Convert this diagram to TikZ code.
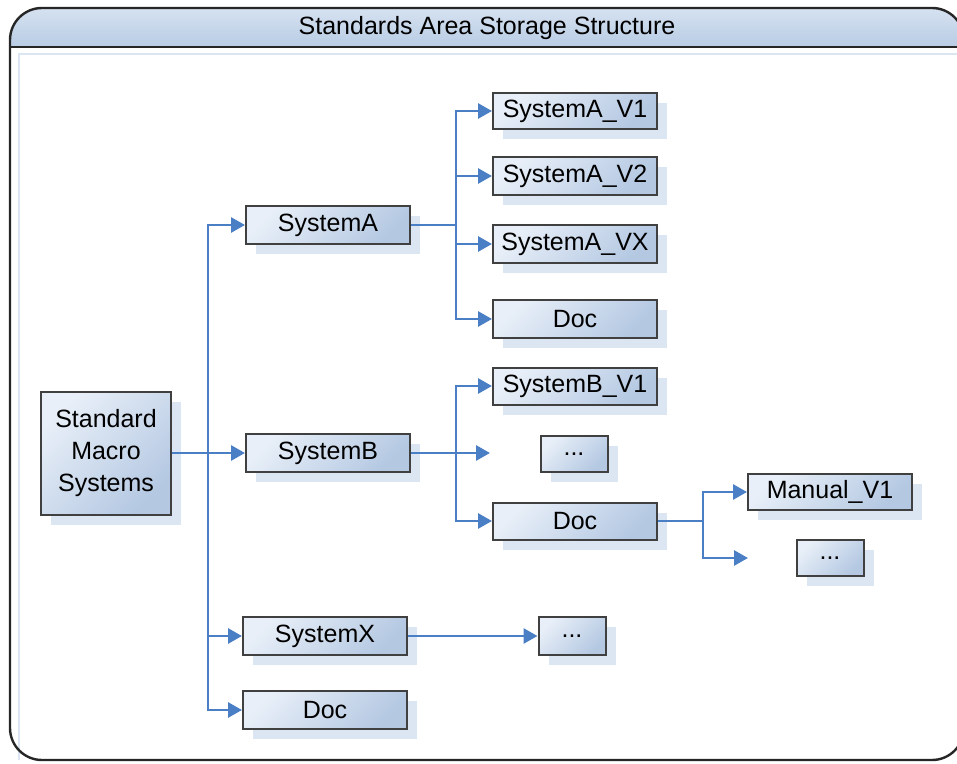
\documentclass[tikz,border=0pt]{standalone}
\usepackage{fontspec}
\setmainfont{Liberation Sans}
\usetikzlibrary{arrows.meta,shadows}
\definecolor{linkblue}{HTML}{4A7EC5}
\definecolor{boxtop}{HTML}{E8EFF8}
\definecolor{boxbot}{HTML}{B4C8E2}
\definecolor{shadowblue}{HTML}{DCE6F2}
\definecolor{headtop}{HTML}{DCE6F3}
\definecolor{headbot}{HTML}{B8CCE4}

\begin{document}
\begin{tikzpicture}[x=0.5pt,y=-0.5pt,
  every node/.style={font=\fontsize{12.5}{16}\selectfont},
  box/.style={draw=black!75,line width=1pt,top color=boxtop,bottom color=boxbot,
    shading angle=45,minimum width=82pt,minimum height=19pt,inner sep=0pt,align=center,
    drop shadow={shadow xshift=5pt,shadow yshift=-5pt,fill=shadowblue,opacity=1}},
  small/.style={box,minimum width=33.5pt,minimum height=18pt},
  link/.style={draw=linkblue,line width=1.4pt,-{Triangle[length=7pt,width=7.5pt]}}]
  \useasboundingbox (0,0) rectangle (957,764);
  % frame and header
  \begin{scope}
    \clip[rounded corners=16pt] (10,8) rectangle (964,760);
    \fill[top color=headtop,bottom color=headbot] (0,0) rectangle (964,47);
  \end{scope}
  \draw[shadowblue,line width=1.2pt] (19,760) -- (19,54) -- (964,54);
  \draw[black!85,line width=1pt] (10,47) -- (964,47);
  \draw[black!85,line width=1.2pt,rounded corners=16pt] (10,8) rectangle (964,760);
  \node (title) at (487,28) {Standards Area Storage Structure};
  % boxes
  \node[box,minimum width=65pt,minimum height=61.5pt] (std) at (106,453) {Standard\\Macro\\Systems};
  \node[box] (sysA) at (328,225) {SystemA};
  \node[box] (sysB) at (328,453) {SystemB};
  \node[box] (sysX) at (325,636) {SystemX};
  \node[box] (doc) at (325,710) {Doc};
  \node[box,minimum height=18pt] (a1) at (575,111) {SystemA\_V1};
  \node[box] (a2) at (575,176) {SystemA\_V2};
  \node[box] (ax) at (575,244) {SystemA\_VX};
  \node[box] (adoc) at (575,319) {Doc};
  \node[box,minimum height=18.5pt] (b1) at (575,386) {SystemB\_V1};
  \node[small] (bdots) at (574,454) {...};
  \node[box,minimum height=18.5pt] (bdoc) at (575,521) {Doc};
  \node[box,minimum height=18pt] (man) at (830,492) {Manual\_V1};
  \node[small] (mdots) at (830,558) {...};
  \node[small,minimum height=19pt] (xdots) at (572,636) {...};
  % buses and free ends
  \coordinate (bus) at (208,453);
  \coordinate (busA) at (456,225);
  \coordinate (busB) at (456,453);
  \coordinate (busD) at (703,521);
  \coordinate (bfree) at (490,453);
  \coordinate (dfree) at (748,558);
  % connectors
  \draw[link] (std.east) -- (bus) |- (sysA.west);
  \draw[link] (std.east) -- (sysB.west);
  \draw[link] (bus) |- (sysX.west);
  \draw[link] (bus) |- (doc.west);
  \draw[link] (sysA.east) -- (busA) |- (a1.west);
  \draw[link] (busA) |- (a2.west);
  \draw[link] (busA) |- (ax.west);
  \draw[link] (busA) |- (adoc.west);
  \draw[link] (sysB.east) -- (bfree);
  \draw[link] (busB) |- (b1.west);
  \draw[link] (busB) |- (bdoc.west);
  \draw[link] (bdoc.east) -- (busD) |- (man.west);
  \draw[link] (busD) |- (dfree);
  \draw[link] (sysX.east) -- (xdots.west);
\end{tikzpicture}
\end{document}
